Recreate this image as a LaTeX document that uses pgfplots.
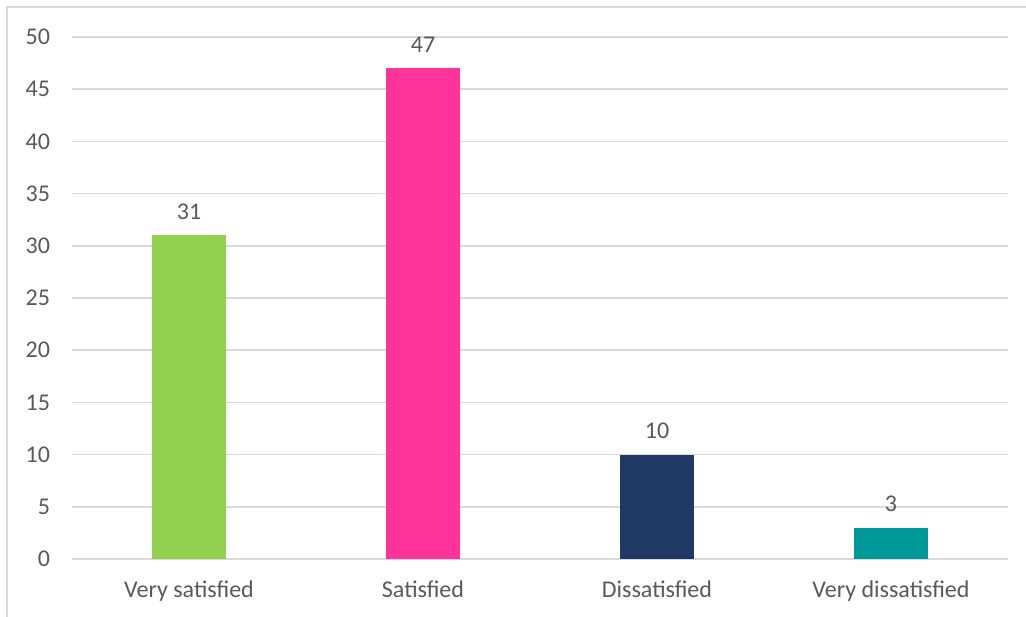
\documentclass[border=0pt]{standalone}
\usepackage{pgfplots}
\pgfplotsset{compat=1.18}
\usepackage{fontspec}
\setmainfont{Carlito}
\definecolor{cgreen}{HTML}{92D050}
\definecolor{cpink}{HTML}{FF3399}
\definecolor{cnavy}{HTML}{1F3864}
\definecolor{cteal}{HTML}{009999}
\definecolor{cgrid}{HTML}{D9D9D9}
\definecolor{ctext}{HTML}{595959}
\begin{document}
\begin{tikzpicture}
\useasboundingbox (-36pt,-28.5pt) rectangle (477pt,279.5pt);
\draw[cgrid, line width=1pt] (-32.4pt,-40pt) -- (-32.4pt,275.8pt) -- (490pt,275.8pt);
\begin{axis}[
  at={(0pt,0pt)}, anchor=south west,
  scale only axis, width=468pt, height=261pt,
  xmin=-0.5, xmax=3.5, ymin=0, ymax=50,
  ytick={0,5,...,50},
  xtick={0,1,2,3},
  xticklabels={Very satisfied,Satisfied,Dissatisfied,Very dissatisfied},
  axis line style={draw=none},
  major tick length=0pt,
  ymajorgrids, grid style={cgrid, line width=0.8pt},
  font=\fontsize{12}{14}\selectfont,
  ticklabel style={text=ctext, font=\fontsize{12}{14}\selectfont},
  /pgf/number format/assume math mode=true,
  yticklabel style={xshift=-7.5pt},
  xticklabel style={yshift=-7.5pt},
  ybar, bar width=37pt, bar shift=0pt,
  nodes near coords,
  every node near coord/.append style={text=ctext, font=\fontsize{12}{14}\selectfont, yshift=4.5pt},
  clip=false,
]
\addplot[fill=cgreen, draw=none] coordinates {(0,31)};
\addplot[fill=cpink, draw=none] coordinates {(1,47)};
\addplot[fill=cnavy, draw=none] coordinates {(2,10)};
\addplot[fill=cteal, draw=none] coordinates {(3,3)};
\end{axis}
\end{tikzpicture}
\end{document}
